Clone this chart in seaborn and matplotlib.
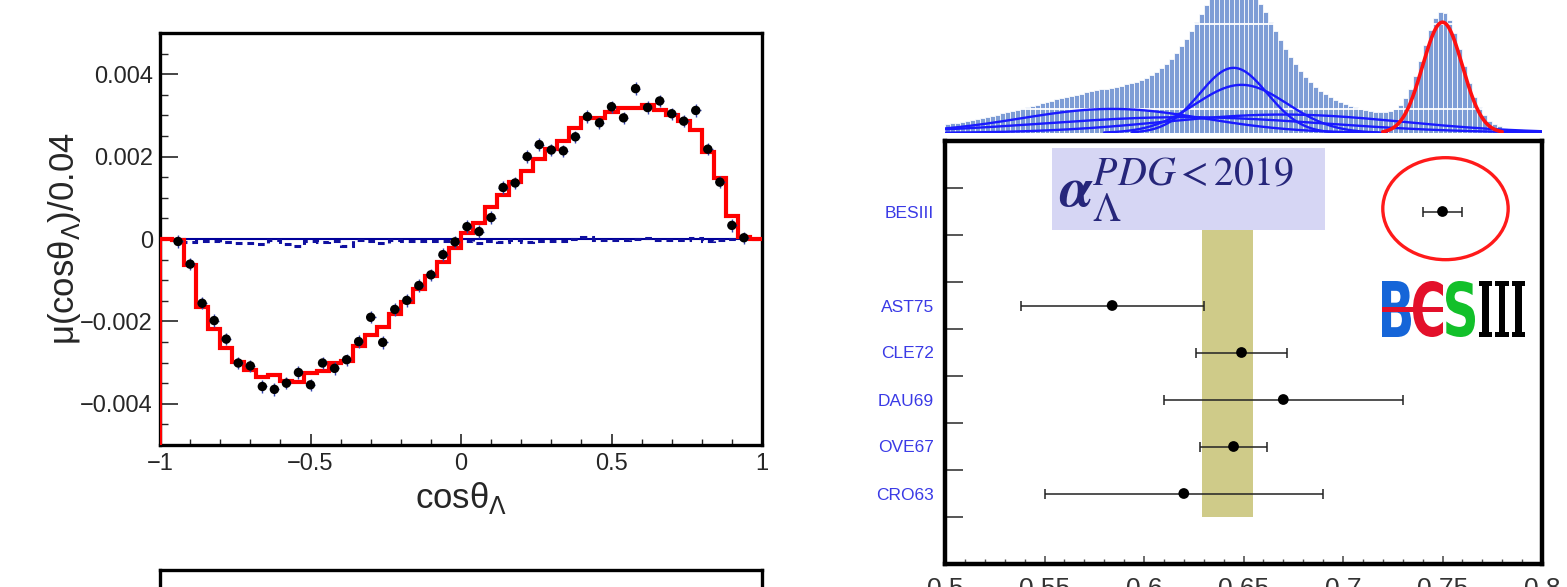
import numpy as np
import pandas as pd
import matplotlib
matplotlib.use("Agg")
import matplotlib.pyplot as plt
import matplotlib.transforms as mtransforms
from matplotlib.ticker import MultipleLocator, FixedLocator, FuncFormatter, NullFormatter
from matplotlib.patches import Ellipse, Rectangle, PathPatch
from matplotlib.textpath import TextPath
from matplotlib.font_manager import FontProperties
import seaborn as sns

# ---------------- Left panel data: mu(cos theta_Lambda) ----------------
cos_edges = np.linspace(-1.0, 1.0, 51)                 # 50 bins of width 0.04
cos_points = np.round(np.arange(-0.94, 0.9401, 0.04), 2)  # bin centres with data
mu_data = [-0.00006, -0.00061, -0.00156, -0.00198, -0.00243, -0.00301, -0.00308,
           -0.00358, -0.00365, -0.00350, -0.00324, -0.00354, -0.00301, -0.00314,
           -0.00293, -0.00249, -0.00190, -0.00251, -0.00171, -0.00149, -0.00113,
           -0.00087, -0.00038, -0.00007,
           0.00030, 0.00018, 0.00052, 0.00125, 0.00136, 0.00200, 0.00229, 0.00216,
           0.00214, 0.00248, 0.00297, 0.00282, 0.00321, 0.00294, 0.00365, 0.00319,
           0.00335, 0.00304, 0.00286, 0.00312, 0.00218, 0.00138, 0.00033, 0.00003]
mu_err = [0.00015] * len(mu_data)
mu_fit = [0.0, -0.00002, -0.00062, -0.00164, -0.00218, -0.00265, -0.00299, -0.00318,
          -0.00334, -0.00331, -0.00345, -0.00347, -0.00326, -0.00320, -0.00300,
          -0.00295, -0.00259, -0.00234, -0.00213, -0.00181, -0.00154, -0.00122,
          -0.00090, -0.00055, -0.00021,
          0.00014, 0.00039, 0.00077, 0.00106, 0.00139, 0.00164, 0.00194, 0.00218,
          0.00239, 0.00269, 0.00293, 0.00293, 0.00309, 0.00318, 0.00319, 0.00326,
          0.00312, 0.00301, 0.00286, 0.00265, 0.00210, 0.00147, 0.00057, 0.00004, 0.0]
mu_bkg = [0.0, -0.00002, -0.00008, -0.00006, -0.00004, -0.00007, -0.00010, -0.00010,
          -0.00012, -0.00002, -0.00012, -0.00018, -0.00004, -0.00008, -0.00006,
          -0.00018, -0.00003, -0.00006, -0.00010, -0.00003, -0.00006, -0.00005,
          -0.00006, -0.00006, -0.00005,
          -0.00006, -0.00010, -0.00006, -0.00008, -0.00003, -0.00008, -0.00005,
          -0.00005, -0.00006, 0.0, 0.00005, -0.00003, -0.00002, -0.00002, 0.0,
          0.00003, -0.00002, -0.00003, -0.00002, 0.00002, -0.00006, -0.00003,
          -0.00001, 0.0, 0.0]

# ---------------- Right panel data: alpha_Lambda measurements ----------------
experiments = ["BESIII", "AST75", "CLE72", "DAU69", "OVE67", "CRO63"]
alpha_lambda = [0.750, 0.584, 0.649, 0.670, 0.645, 0.620]
alpha_err = [0.010, 0.046, 0.023, 0.060, 0.017, 0.070]
row_order = ["CRO63", "OVE67", "DAU69", "CLE72", "AST75", "", "BESIII"]  # bottom -> top
pdg_mean = 0.642
pdg_err = 0.013

# ---------------- style ----------------
sns.set_style("ticks")
plt.rcParams['font.family'] = ['Liberation Sans', 'DejaVu Sans']

W, H = 1567, 587
fig = plt.figure(figsize=(W / 100, H / 100), dpi=100)


def fb(x0, y0, x1, y1):
    return [x0 / W, 1 - y1 / H, (x1 - x0) / W, (y1 - y0) / H]


axL = fig.add_axes(fb(160, 33, 762, 445))
axL2 = fig.add_axes(fb(160, 570, 762, 720))
axH = fig.add_axes(fb(945, 0, 1542, 133))
axR = fig.add_axes(fb(945, 141, 1542, 564))

# ================= Left panel =================
ylo, yhi = -0.005, 0.005
axL.set_xlim(-1, 1)
axL.set_ylim(ylo, yhi)
axL.axhline(0, color='#00009a', lw=1.5, zorder=2)
axL.stairs(mu_bkg, cos_edges, baseline=None, color='#1010a0', lw=2.2,
           ls=(0, (2.2, 1.6)), zorder=3)
axL.vlines(cos_edges[0], ylo, mu_bkg[0], color='#1010a0', lw=2.0, ls=(0, (2.2, 1.8)), zorder=3)
axL.stairs(mu_fit, cos_edges, baseline=None, color='red', lw=3.0, zorder=4)
axL.vlines(cos_edges[0], ylo, mu_fit[0], color='red', lw=3.0, zorder=4)
axL.errorbar(cos_points, mu_data, yerr=mu_err, xerr=0.016, fmt='none',
             ecolor='#3344b0', elinewidth=1.0, zorder=5)
sns.scatterplot(x=cos_points, y=mu_data, ax=axL, color='black', s=46,
                edgecolor='none', zorder=6, legend=False)

axL.yaxis.set_major_locator(FixedLocator([-0.004, -0.002, 0.0, 0.002, 0.004]))
axL.yaxis.set_minor_locator(MultipleLocator(0.0005))
axL.xaxis.set_major_locator(FixedLocator([-1, -0.5, 0, 0.5, 1]))
axL.xaxis.set_minor_locator(MultipleLocator(0.1))


def fmt_y(v, p):
    if abs(v) < 1e-12:
        return '0'
    return f'{v:.3f}'.replace('-', '\u2212')


def fmt_x(v, p):
    if abs(v) < 1e-12:
        return '0'
    return f'{v:g}'.replace('-', '\u2212')


axL.yaxis.set_major_formatter(FuncFormatter(fmt_y))
axL.xaxis.set_major_formatter(FuncFormatter(fmt_x))
axL.tick_params(axis='y', which='major', direction='in', length=13, width=1.2,
                labelsize=17, pad=5, left=True, right=False)
axL.tick_params(axis='y', which='minor', direction='in', length=6, width=1.0,
                left=True, right=False)
axL.tick_params(axis='x', which='major', direction='in', length=8, width=1.2,
                labelsize=17, pad=6, bottom=True, top=False)
axL.tick_params(axis='x', which='minor', direction='in', length=4, width=1.0,
                bottom=True, top=False)
for s in axL.spines.values():
    s.set_linewidth(2.4)
    s.set_color('black')
axL.set_xlabel('cos\u03b8$_{\\Lambda}$', fontsize=25)
axL.set_ylabel('\u03bc(cos\u03b8$_{\\Lambda}$)/0.04', fontsize=25)
axL.xaxis.set_label_coords(0.5, -0.085)
axL.yaxis.set_label_coords(-0.128, 0.5)

# second (cut-off) panel below
axL2.set_xticks([])
axL2.set_yticks([])
for s in axL2.spines.values():
    s.set_linewidth(2.4)
    s.set_color('black')


# ================= Right panel: histogram of Gaussians =================
def gauss(x, m, s):
    return np.exp(-0.5 * ((x - m) / s) ** 2) / (np.sqrt(2 * np.pi) * s)


hist_edges = np.linspace(0.5, 0.8, 121)
hist_centres = 0.5 * (hist_edges[1:] + hist_edges[:-1])
hist_heights = np.zeros_like(hist_centres)
for m, s in zip(alpha_lambda, alpha_err):
    hist_heights += gauss(hist_centres, m, s)
hist_df = pd.DataFrame({"alpha": hist_centres, "density": hist_heights})

sns.histplot(data=hist_df, x="alpha", weights="density", bins=list(hist_edges), ax=axH,
             color='#7e9dd6', edgecolor='white', linewidth=0.55, alpha=1.0, zorder=1)
for yv in (8.8, 39.1):
    axH.axhline(yv, color='white', lw=1.3, zorder=2)
for name, m, s in zip(experiments, alpha_lambda, alpha_err):
    xs = np.linspace(max(0.5, m - 3 * s), min(0.8, m + 3 * s), 300)
    is_bes = name == "BESIII"
    sns.lineplot(x=xs, y=gauss(xs, m, s), ax=axH,
                 color='#ff1010' if is_bes else '#1a1aff',
                 lw=2.6 if is_bes else 1.7, zorder=4 if is_bes else 3, legend=False)
axH.set_xlim(0.5, 0.8)
axH.set_ylim(0, 47.9)
axH.set_axis_off()

# ================= Right panel: measurements =================
axR.set_xlim(0.5, 0.8)
axR.set_ylim(0, len(row_order) + 2)
row_pos = {name: i + 1.5 for i, name in enumerate(row_order)}

# PDG band and title box
title_bottom = row_pos["BESIII"] - 0.39
axR.add_patch(Rectangle((pdg_mean - pdg_err, 1), 2 * pdg_err, title_bottom - 1,
                        facecolor='#cfcb89', edgecolor='none', zorder=1))
axR.add_patch(Rectangle((0.554, title_bottom), 0.137, 1.74,
                        facecolor='#d6d6f4', edgecolor='none', zorder=1))
axR.text(0.5575, title_bottom + 0.86, r'$\boldsymbol{\alpha}_{\Lambda}^{PDG{<}2019}$',
         fontsize=41, color='#26267a', va='center', ha='left', math_fontfamily='stix',
         zorder=3)

ypos = [row_pos[n] for n in experiments]
axR.errorbar(alpha_lambda, ypos, xerr=alpha_err, fmt='none', ecolor='#222222',
             elinewidth=1.1, capsize=3.5, capthick=1.1, zorder=4)
sns.scatterplot(x=alpha_lambda, y=ypos, ax=axR, color='black', s=60,
                edgecolor='none', zorder=5, legend=False)

# ellipse around BESIII
axR.add_patch(Ellipse((alpha_lambda[0] + 0.0015, row_pos["BESIII"] + 0.06), 0.063, 2.17,
                      facecolor='none', edgecolor='#ff1a1a', lw=2.4, zorder=6))

axR.xaxis.set_major_locator(MultipleLocator(0.05))
axR.xaxis.set_minor_locator(MultipleLocator(0.01))
axR.xaxis.set_major_formatter(FuncFormatter(lambda v, p: f'{v:g}'))
axR.set_yticks(list(range(1, len(row_order) + 2)))
axR.yaxis.set_major_formatter(NullFormatter())
label_names = [n for n in row_order if n]
axR.set_yticks([row_pos[n] for n in label_names], labels=label_names, minor=True)
axR.tick_params(axis='y', which='major', direction='in', length=13, width=1.4,
                color='#555555', left=True, right=False)
axR.tick_params(axis='y', which='minor', length=0, labelsize=12.5,
                labelcolor='#3a3ae6', pad=8)
axR.tick_params(axis='x', which='major', direction='in', length=6, width=1.2,
                color='#555555', labelsize=19, labelcolor='#333333', pad=9,
                bottom=True, top=False)
axR.tick_params(axis='x', which='minor', direction='in', length=3.5, width=1.0,
                color='#555555', bottom=True, top=False)
for s in axR.spines.values():
    s.set_linewidth(3.2)
    s.set_color('black')

# ================= BESIII logo =================
to_fig = mtransforms.Affine2D().scale(1 / fig.dpi) + fig.dpi_scale_trans


def glyph(ch, box, color, prop):
    tp = TextPath((0, 0), ch, size=1, prop=prop)
    ext = tp.get_extents()
    x0, y0, x1, y1 = box
    tr = (mtransforms.Affine2D().translate(-ext.x0, -ext.y0)
          .scale((x1 - x0) / ext.width, (y1 - y0) / ext.height)
          .translate(x0, H - y1))
    fig.add_artist(PathPatch(tr.transform_path(tp), facecolor=color, edgecolor='none',
                             transform=to_fig, zorder=10))


bold_sans = FontProperties(family='DejaVu Sans', weight='bold')
bold_serif = FontProperties(family='DejaVu Serif', weight='bold')
glyph('B', (1382, 281, 1411, 337), '#1565d8', bold_sans)
glyph('C', (1413, 281, 1443, 337), '#e3102a', bold_sans)
glyph('S', (1446, 281, 1475, 337), '#12c02a', bold_sans)
glyph('III', (1479, 281, 1525, 337), 'black', bold_serif)
fig.add_artist(Rectangle((1382 / 100, (H - 312) / 100), 61 / 100, 5 / 100,
                         facecolor='#e3102a', edgecolor='none',
                         transform=fig.dpi_scale_trans, zorder=11))

fig.savefig('out.png', dpi=100)
